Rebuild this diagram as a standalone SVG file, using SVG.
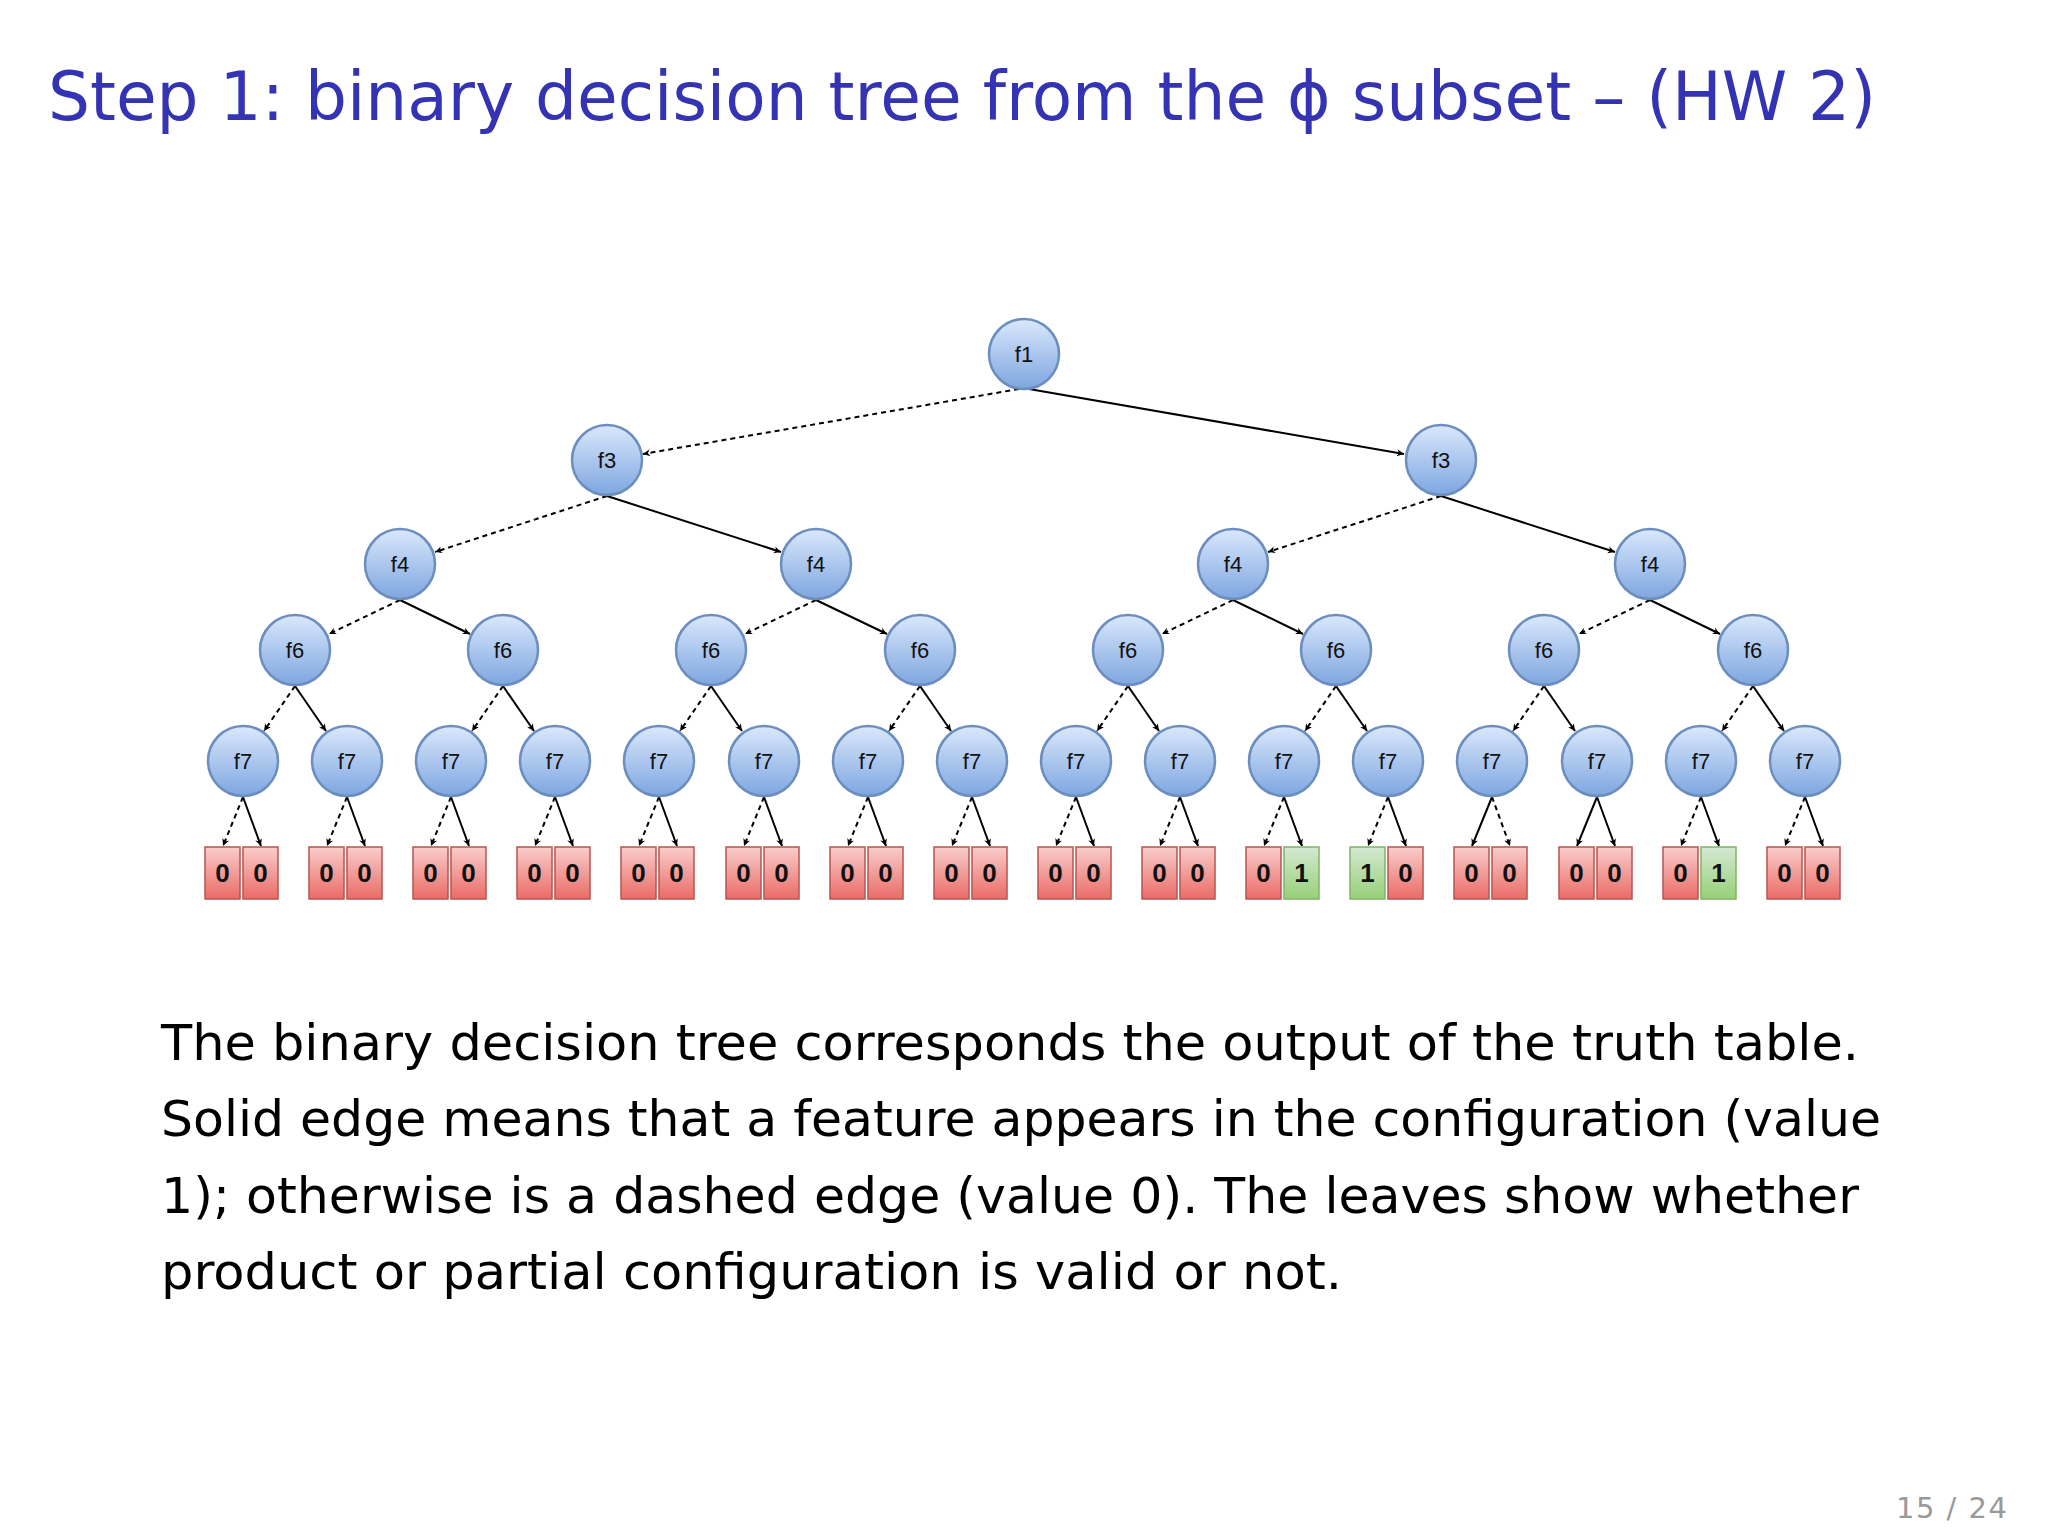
<svg xmlns="http://www.w3.org/2000/svg" width="2048" height="1536" viewBox="0 0 2048 1536">
<defs>
<linearGradient id="gb" x1="0" y1="0" x2="0" y2="1"><stop offset="0" stop-color="#dae8fc"/><stop offset="1" stop-color="#7ea6e0"/></linearGradient>
<linearGradient id="gr" x1="0" y1="0" x2="0" y2="1"><stop offset="0" stop-color="#f8cecc"/><stop offset="1" stop-color="#ea6b66"/></linearGradient>
<linearGradient id="gg" x1="0" y1="0" x2="0" y2="1"><stop offset="0" stop-color="#d5e8d4"/><stop offset="1" stop-color="#97d077"/></linearGradient>
<marker id="ar" viewBox="0 0 10 10" refX="10" refY="5" markerWidth="5" markerHeight="5" orient="auto" markerUnits="userSpaceOnUse" style="overflow:visible"><path d="M0,0 L10,5 L0,10 L3,5 Z" fill="#000" transform="scale(1.4) translate(-3,-1.4)"/></marker>
<style>
.n circle{fill:url(#gb);stroke:#6c8ebf;stroke-width:2.5}
.n text{font-family:"Liberation Sans",Arial,sans-serif;font-size:22px;fill:#111;text-anchor:middle}
.r{fill:url(#gr);stroke:#b85450;stroke-width:1.5}
.g{fill:url(#gg);stroke:#82b366;stroke-width:1.5}
.lv{font-family:"Liberation Sans",Arial,sans-serif;font-size:26px;font-weight:bold;fill:#111;text-anchor:middle}
.s{stroke:#000;stroke-width:2;fill:none;marker-end:url(#ar)}
.d{stroke:#000;stroke-width:2;fill:none;stroke-dasharray:5,4;marker-end:url(#ar)}
.t{font-family:"DejaVu Sans",sans-serif;font-size:50px;fill:#000}
</style>
</defs>
<rect width="2048" height="1536" fill="#fff"/>
<text x="48" y="120" font-family="DejaVu Sans,sans-serif" font-size="68" fill="#3333b3" textLength="1828" lengthAdjust="spacingAndGlyphs">Step 1: binary decision tree from the ϕ subset – (HW 2)</text>

<g id="connectors">
<path class="d" d="M1019,389 L643,454"/><path class="s" d="M1029,389 L1404,454"/>
<path class="d" d="M607,496 L435,552"/><path class="s" d="M607,496 L781,552"/>
<path class="d" d="M1441,496 L1268,552"/><path class="s" d="M1441,496 L1615,552"/>
<path class="d" d="M400,600 L329,634"/><path class="s" d="M400,600 L470,634"/>
<path class="d" d="M816,600 L745,634"/><path class="s" d="M816,600 L887,634"/>
<path class="d" d="M1233,600 L1162,634"/><path class="s" d="M1233,600 L1303,634"/>
<path class="d" d="M1650,600 L1579,634"/><path class="s" d="M1650,600 L1720,634"/>
<path class="d" d="M295,686 L264,731"/><path class="s" d="M295,686 L326,731"/>
<path class="d" d="M503,686 L472,731"/><path class="s" d="M503,686 L534,731"/>
<path class="d" d="M711,686 L680,731"/><path class="s" d="M711,686 L742,731"/>
<path class="d" d="M920,686 L889,731"/><path class="s" d="M920,686 L951,731"/>
<path class="d" d="M1128,686 L1097,731"/><path class="s" d="M1128,686 L1159,731"/>
<path class="d" d="M1336,686 L1305,731"/><path class="s" d="M1336,686 L1367,731"/>
<path class="d" d="M1544,686 L1513,731"/><path class="s" d="M1544,686 L1575,731"/>
<path class="d" d="M1753,686 L1722,731"/><path class="s" d="M1753,686 L1784,731"/>
<path class="d" d="M243,797 L223,846"/><path class="s" d="M243,797 L261,846"/>
<path class="d" d="M347,797 L327,846"/><path class="s" d="M347,797 L365,846"/>
<path class="d" d="M451,797 L431,846"/><path class="s" d="M451,797 L469,846"/>
<path class="d" d="M555,797 L535,846"/><path class="s" d="M555,797 L573,846"/>
<path class="d" d="M659,797 L639,846"/><path class="s" d="M659,797 L677,846"/>
<path class="d" d="M764,797 L744,846"/><path class="s" d="M764,797 L782,846"/>
<path class="d" d="M868,797 L848,846"/><path class="s" d="M868,797 L886,846"/>
<path class="d" d="M972,797 L952,846"/><path class="s" d="M972,797 L990,846"/>
<path class="d" d="M1076,797 L1056,846"/><path class="s" d="M1076,797 L1094,846"/>
<path class="d" d="M1180,797 L1160,846"/><path class="s" d="M1180,797 L1198,846"/>
<path class="d" d="M1284,797 L1264,846"/><path class="s" d="M1284,797 L1302,846"/>
<path class="d" d="M1388,797 L1368,846"/><path class="s" d="M1388,797 L1406,846"/>
<path class="s" d="M1492,797 L1472,846"/><path class="d" d="M1492,797 L1510,846"/>
<path class="s" d="M1597,797 L1577,846"/><path class="s" d="M1597,797 L1615,846"/>
<path class="d" d="M1701,797 L1681,846"/><path class="s" d="M1701,797 L1719,846"/>
<path class="d" d="M1805,797 L1785,846"/><path class="s" d="M1805,797 L1823,846"/>
</g>

<g id="f1" class="n"><circle cx="1024" cy="354" r="35"/><text x="1024" y="362">f1</text></g>
<g id="f3a" class="n"><circle cx="607" cy="460" r="35"/><text x="607" y="468">f3</text></g>
<g id="f3b" class="n"><circle cx="1441" cy="460" r="35"/><text x="1441" y="468">f3</text></g>
<g id="f4a" class="n"><circle cx="400" cy="564" r="35"/><text x="400" y="572">f4</text></g>
<g id="f4b" class="n"><circle cx="816" cy="564" r="35"/><text x="816" y="572">f4</text></g>
<g id="f4c" class="n"><circle cx="1233" cy="564" r="35"/><text x="1233" y="572">f4</text></g>
<g id="f4d" class="n"><circle cx="1650" cy="564" r="35"/><text x="1650" y="572">f4</text></g>
<g id="f6a" class="n"><circle cx="295" cy="650" r="35"/><text x="295" y="658">f6</text></g>
<g id="f6b" class="n"><circle cx="503" cy="650" r="35"/><text x="503" y="658">f6</text></g>
<g id="f6c" class="n"><circle cx="711" cy="650" r="35"/><text x="711" y="658">f6</text></g>
<g id="f6d" class="n"><circle cx="920" cy="650" r="35"/><text x="920" y="658">f6</text></g>
<g id="f6e" class="n"><circle cx="1128" cy="650" r="35"/><text x="1128" y="658">f6</text></g>
<g id="f6f" class="n"><circle cx="1336" cy="650" r="35"/><text x="1336" y="658">f6</text></g>
<g id="f6g" class="n"><circle cx="1544" cy="650" r="35"/><text x="1544" y="658">f6</text></g>
<g id="f6h" class="n"><circle cx="1753" cy="650" r="35"/><text x="1753" y="658">f6</text></g>
<g id="f7a" class="n"><circle cx="243" cy="761" r="35"/><text x="243" y="769">f7</text></g>
<g id="f7b" class="n"><circle cx="347" cy="761" r="35"/><text x="347" y="769">f7</text></g>
<g id="f7c" class="n"><circle cx="451" cy="761" r="35"/><text x="451" y="769">f7</text></g>
<g id="f7d" class="n"><circle cx="555" cy="761" r="35"/><text x="555" y="769">f7</text></g>
<g id="f7e" class="n"><circle cx="659" cy="761" r="35"/><text x="659" y="769">f7</text></g>
<g id="f7f" class="n"><circle cx="764" cy="761" r="35"/><text x="764" y="769">f7</text></g>
<g id="f7g" class="n"><circle cx="868" cy="761" r="35"/><text x="868" y="769">f7</text></g>
<g id="f7h" class="n"><circle cx="972" cy="761" r="35"/><text x="972" y="769">f7</text></g>
<g id="f7i" class="n"><circle cx="1076" cy="761" r="35"/><text x="1076" y="769">f7</text></g>
<g id="f7j" class="n"><circle cx="1180" cy="761" r="35"/><text x="1180" y="769">f7</text></g>
<g id="f7k" class="n"><circle cx="1284" cy="761" r="35"/><text x="1284" y="769">f7</text></g>
<g id="f7l" class="n"><circle cx="1388" cy="761" r="35"/><text x="1388" y="769">f7</text></g>
<g id="f7m" class="n"><circle cx="1492" cy="761" r="35"/><text x="1492" y="769">f7</text></g>
<g id="f7n" class="n"><circle cx="1597" cy="761" r="35"/><text x="1597" y="769">f7</text></g>
<g id="f7o" class="n"><circle cx="1701" cy="761" r="35"/><text x="1701" y="769">f7</text></g>
<g id="f7p" class="n"><circle cx="1805" cy="761" r="35"/><text x="1805" y="769">f7</text></g>

<g id="leaves">
<g id="la"><rect class="r" x="205" y="847" width="35" height="52"/><rect class="r" x="243" y="847" width="35" height="52"/><text class="lv" x="222.5" y="882">0</text><text class="lv" x="260.5" y="882">0</text></g>
<g id="lb"><rect class="r" x="309" y="847" width="35" height="52"/><rect class="r" x="347" y="847" width="35" height="52"/><text class="lv" x="326.5" y="882">0</text><text class="lv" x="364.5" y="882">0</text></g>
<g id="lc"><rect class="r" x="413" y="847" width="35" height="52"/><rect class="r" x="451" y="847" width="35" height="52"/><text class="lv" x="430.5" y="882">0</text><text class="lv" x="468.5" y="882">0</text></g>
<g id="ld"><rect class="r" x="517" y="847" width="35" height="52"/><rect class="r" x="555" y="847" width="35" height="52"/><text class="lv" x="534.5" y="882">0</text><text class="lv" x="572.5" y="882">0</text></g>
<g id="le"><rect class="r" x="621" y="847" width="35" height="52"/><rect class="r" x="659" y="847" width="35" height="52"/><text class="lv" x="638.5" y="882">0</text><text class="lv" x="676.5" y="882">0</text></g>
<g id="lf"><rect class="r" x="726" y="847" width="35" height="52"/><rect class="r" x="764" y="847" width="35" height="52"/><text class="lv" x="743.5" y="882">0</text><text class="lv" x="781.5" y="882">0</text></g>
<g id="lg"><rect class="r" x="830" y="847" width="35" height="52"/><rect class="r" x="868" y="847" width="35" height="52"/><text class="lv" x="847.5" y="882">0</text><text class="lv" x="885.5" y="882">0</text></g>
<g id="lh"><rect class="r" x="934" y="847" width="35" height="52"/><rect class="r" x="972" y="847" width="35" height="52"/><text class="lv" x="951.5" y="882">0</text><text class="lv" x="989.5" y="882">0</text></g>
<g id="li"><rect class="r" x="1038" y="847" width="35" height="52"/><rect class="r" x="1076" y="847" width="35" height="52"/><text class="lv" x="1055.5" y="882">0</text><text class="lv" x="1093.5" y="882">0</text></g>
<g id="lj"><rect class="r" x="1142" y="847" width="35" height="52"/><rect class="r" x="1180" y="847" width="35" height="52"/><text class="lv" x="1159.5" y="882">0</text><text class="lv" x="1197.5" y="882">0</text></g>
<g id="lk"><rect class="r" x="1246" y="847" width="35" height="52"/><rect class="g" x="1284" y="847" width="35" height="52"/><text class="lv" x="1263.5" y="882">0</text><text class="lv" x="1301.5" y="882">1</text></g>
<g id="ll"><rect class="g" x="1350" y="847" width="35" height="52"/><rect class="r" x="1388" y="847" width="35" height="52"/><text class="lv" x="1367.5" y="882">1</text><text class="lv" x="1405.5" y="882">0</text></g>
<g id="lm"><rect class="r" x="1454" y="847" width="35" height="52"/><rect class="r" x="1492" y="847" width="35" height="52"/><text class="lv" x="1471.5" y="882">0</text><text class="lv" x="1509.5" y="882">0</text></g>
<g id="ln"><rect class="r" x="1559" y="847" width="35" height="52"/><rect class="r" x="1597" y="847" width="35" height="52"/><text class="lv" x="1576.5" y="882">0</text><text class="lv" x="1614.5" y="882">0</text></g>
<g id="lo"><rect class="r" x="1663" y="847" width="35" height="52"/><rect class="g" x="1701" y="847" width="35" height="52"/><text class="lv" x="1680.5" y="882">0</text><text class="lv" x="1718.5" y="882">1</text></g>
<g id="lp"><rect class="r" x="1767" y="847" width="35" height="52"/><rect class="r" x="1805" y="847" width="35" height="52"/><text class="lv" x="1784.5" y="882">0</text><text class="lv" x="1822.5" y="882">0</text></g>
</g>

<text class="t" x="161" y="1060" textLength="1698" lengthAdjust="spacingAndGlyphs">The binary decision tree corresponds the output of the truth table.</text>
<text class="t" x="161" y="1136" textLength="1720" lengthAdjust="spacingAndGlyphs">Solid edge means that a feature appears in the configuration (value</text>
<text class="t" x="161" y="1213" textLength="1698" lengthAdjust="spacingAndGlyphs">1); otherwise is a dashed edge (value 0).  The leaves show whether</text>
<text class="t" x="161" y="1289" textLength="1181" lengthAdjust="spacingAndGlyphs">product or partial configuration is valid or not.</text>
<text x="1896" y="1518" font-family="DejaVu Sans,sans-serif" font-size="29" fill="#999" textLength="111">15 / 24</text>
</svg>
